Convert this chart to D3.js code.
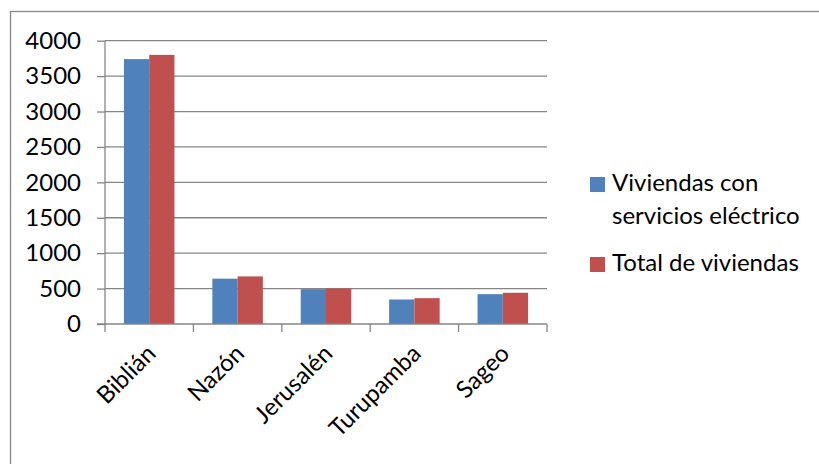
<!DOCTYPE html>
<html><head><meta charset="utf-8">
<script src="https://cdn.jsdelivr.net/npm/d3@7"></script>
<style>body{margin:0;background:#fff}svg{display:block}</style>
</head><body>
<svg id="c" width="819" height="464"></svg>
<script>
const categories = ["Biblián", "Nazón", "Jerusalén", "Turupamba", "Sageo"];
const seriesNames = ["Viviendas con servicios eléctrico", "Total de viviendas"];
const electrico = [3740, 640, 492, 346, 421];
const total = [3800, 672, 502, 365, 441];
const yTicks = [0, 500, 1000, 1500, 2000, 2500, 3000, 3500, 4000];
const colors = ["#4F81BD", "#C0504D"];

(function () {
const svg = d3.select("#c");
const font = "Lato, 'Open Sans', sans-serif";
const fs = 24;
const grey = "#868686";

svg.append("rect").attr("x", 10.5).attr("y", 11.5).attr("width", 830).attr("height", 480)
  .attr("fill", "none").attr("stroke", grey).attr("stroke-width", 1.3);

const pL = 105, pR = 547, pT = 40.7, pB = 324;
const x = d3.scaleBand().domain(categories).range([pL, pR]).paddingInner(0).paddingOuter(0);
const y = d3.scaleLinear().domain([0, 4000]).range([pB, pT]);

svg.append("g").selectAll("line").data(yTicks.filter(d => d > 0)).join("line")
  .attr("x1", pL).attr("x2", pR).attr("y1", d => y(d)).attr("y2", d => y(d))
  .attr("stroke", grey).attr("stroke-width", 1.3);

const bw = x.bandwidth() / 3.5;
const data = [electrico, total];
data.forEach((vals, si) => {
  svg.append("g").selectAll("rect").data(categories).join("rect")
    .attr("x", (c) => x(c) + bw * 0.75 + si * bw)
    .attr("y", (c, i) => y(vals[i]))
    .attr("width", bw)
    .attr("height", (c, i) => y(0) - y(vals[i]))
    .attr("fill", colors[si]);
});

const yAxis = d3.axisLeft(y).tickValues(yTicks).tickFormat(d3.format("d")).tickSize(8).tickPadding(8);
const gy = svg.append("g").attr("transform", `translate(${pL},0)`).call(yAxis);
gy.select(".domain").attr("stroke", grey).attr("stroke-width", 1.3).attr("d", `M0,${pT}V${pB}`);
gy.selectAll(".tick line").attr("stroke", grey).attr("stroke-width", 1.3);
gy.selectAll(".tick text").attr("font-family", font).attr("font-size", fs).attr("fill", "#000").attr("x", -24);

const gx = svg.append("g").attr("transform", `translate(0,${pB})`);
gx.append("line").attr("x1", pL - 8).attr("x2", pR).attr("y1", 0).attr("y2", 0)
  .attr("stroke", grey).attr("stroke-width", 1.3);
const bounds = categories.map(c => x(c)).concat([pR]);
gx.selectAll("line.t").data(bounds).join("line").attr("class", "t")
  .attr("x1", d => d).attr("x2", d => d).attr("y1", 0).attr("y2", 8)
  .attr("stroke", grey).attr("stroke-width", 1.3);
gx.selectAll("text").data(categories).join("text")
  .attr("transform", c => `translate(${x(c) + x.bandwidth() / 2 + 8},${31}) rotate(-45)`)
  .attr("text-anchor", "end")
  .attr("font-family", font).attr("font-size", fs).attr("fill", "#000")
  .text(c => c);

const lg = svg.append("g").attr("font-family", font).attr("font-size", fs);
lg.append("rect").attr("x", 590).attr("y", 177).attr("width", 15).attr("height", 15).attr("fill", colors[0]);
lg.append("text").attr("x", 612).attr("y", 191).text("Viviendas con");
lg.append("text").attr("x", 612).attr("y", 224).text("servicios eléctrico");
lg.append("rect").attr("x", 590).attr("y", 257).attr("width", 15).attr("height", 15).attr("fill", colors[1]);
lg.append("text").attr("x", 612).attr("y", 271).text(seriesNames[1]);
})();
</script>
</body></html>
